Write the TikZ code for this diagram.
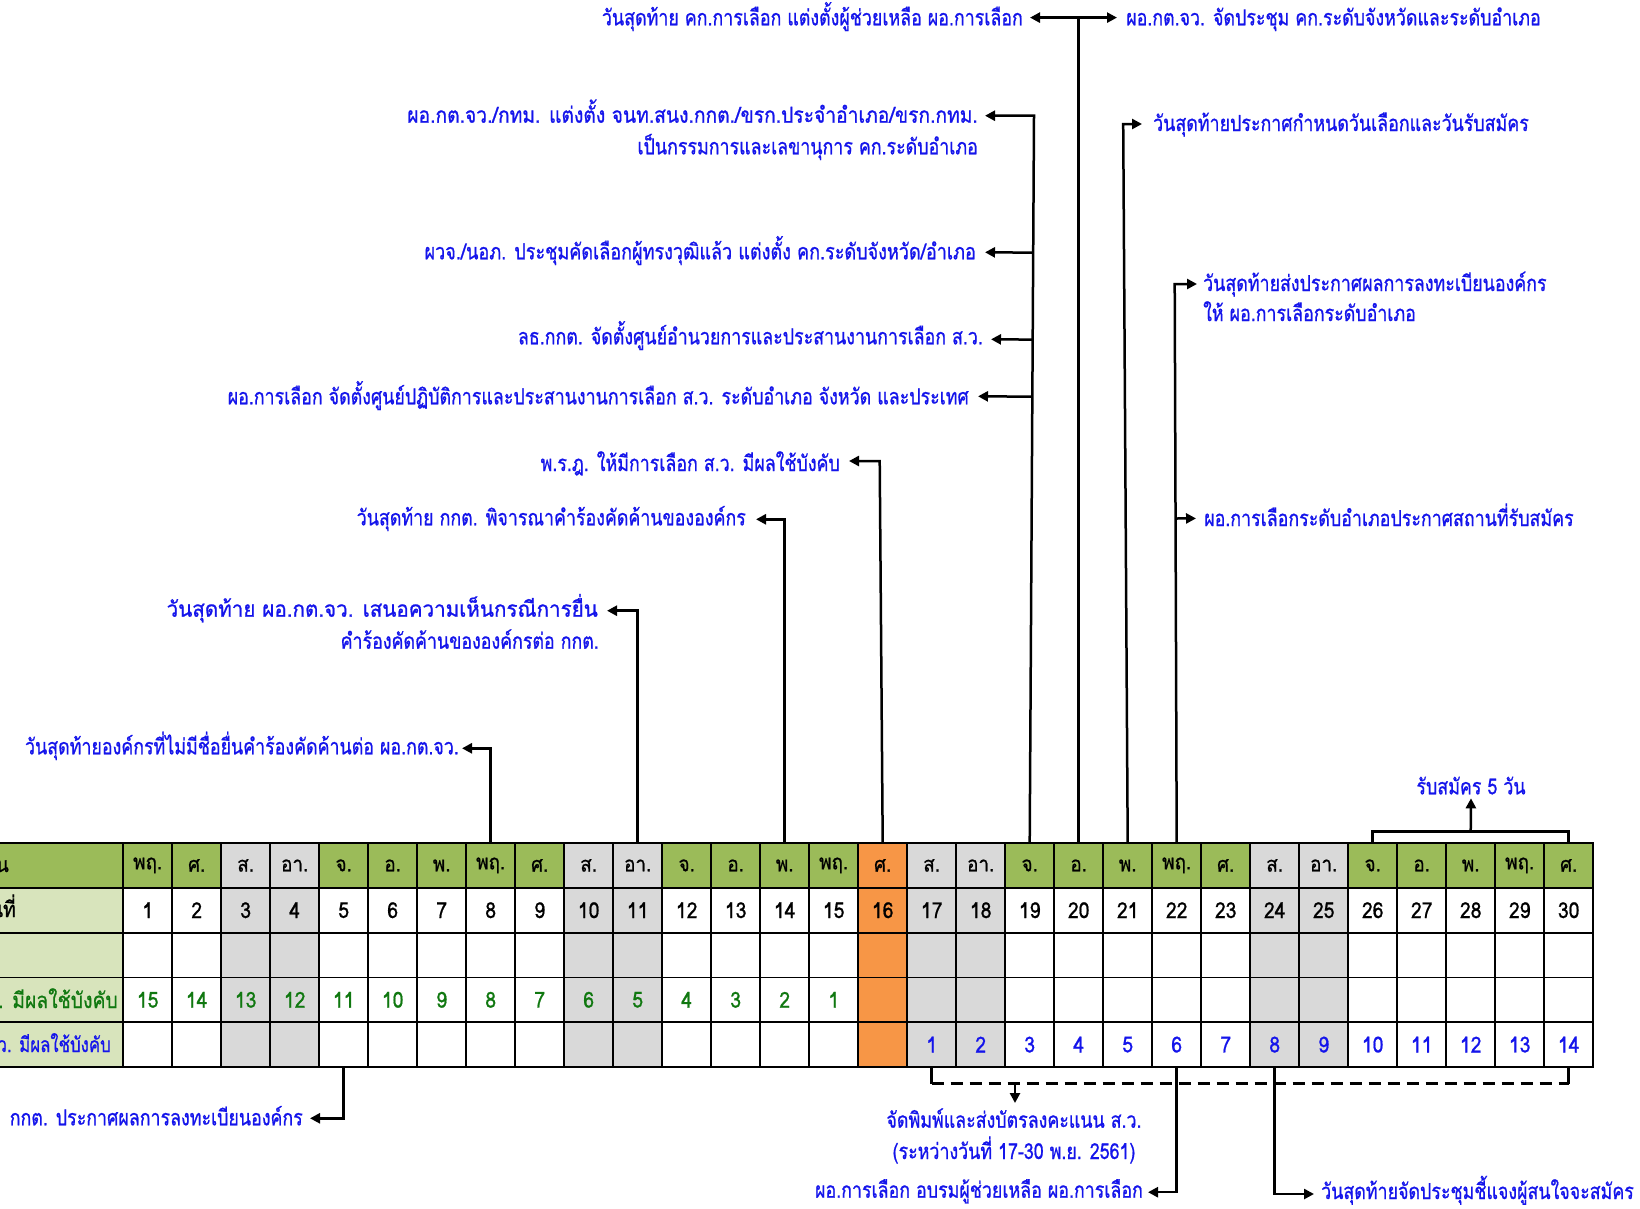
\documentclass[tikz,border=0pt]{standalone}
\usepackage{fontspec}
\setmainfont[Script=Thai,FakeBold=0.9]{Loma}
\usetikzlibrary{arrows.meta,calc}
\definecolor{hdrgreen}{RGB}{155,187,89}
\definecolor{lblgreen}{RGB}{216,228,188}
\definecolor{wkgray}{RGB}{217,217,217}
\definecolor{orng}{RGB}{247,150,70}
\definecolor{tblue}{RGB}{20,20,235}
\definecolor{tgreen}{RGB}{16,120,16}
\newcommand\hdrfont{\fontsize{21}{24}\selectfont}
\newcommand\numfont{\fontsize{22}{26}\selectfont}
\newcommand\lblfont{\fontsize{22}{26}\selectfont}
\newcommand\sxl[2][0.81]{\scalebox{#1}[1]{#2}}
\newcommand\sxh[1]{\scalebox{0.9}[1]{#1}}
\newcommand\sxn[1]{\scalebox{0.88}[1]{#1}}
\newcommand\sxr[1]{\scalebox{0.8}[1]{#1}}
\begin{document}
\begin{tikzpicture}[x=1pt,y=-1pt,
  cell/.style={draw=black,line width=1.8pt,minimum width=49pt,minimum height=44.8pt,inner sep=0pt,anchor=center},
  lbl/.style={text=tblue,inner sep=0pt,font=\lblfont},
  conn/.style={line width=2.5pt},
  arr/.style={conn,-{Triangle[length=10pt,width=10pt]}},
  darr/.style={conn,{Triangle[length=10pt,width=10pt]}-{Triangle[length=10pt,width=10pt]}}
]
\useasboundingbox (0,0) rectangle (1640,1208);
\clip (0,0) rectangle (1640,1208);
\fill[white] (0,0) rectangle (1640,1208);

% label column
\node[cell,minimum width=323.2pt,fill=hdrgreen] (lab1) at (-38.4,865.4) {};
\node[cell,minimum width=323.2pt,fill=lblgreen] (lab2) at (-38.4,910.2) {};
\node[cell,minimum width=323.2pt,fill=lblgreen] (lab3) at (-38.4,955) {};
\node[cell,minimum width=323.2pt,fill=lblgreen] (lab4) at (-38.4,999.8) {};
\node[cell,minimum width=323.2pt,fill=lblgreen] (lab5) at (-38.4,1044.6) {};
\node[anchor=base east,inner sep=0pt,font=\hdrfont] (labt1) at (9,872) {\sxh{วัน}};
\node[anchor=base east,inner sep=0pt,font=\numfont] (labt2) at (16,917) {\sxn{วันที่}};
\node[anchor=base east,inner sep=0pt,font=\numfont,text=tgreen] (labt4) at (118,1008) {\sxn{ฎ. มีผลใช้บังคับ}};
\node[anchor=base east,inner sep=0pt,font=\fontsize{21}{24}\selectfont,text=tblue] (labt5) at (111,1052) {\sxr{ว. มีผลใช้บังคับ}};

% calendar
\foreach \i/\dn/\hf/\bg in {1/พฤ./hdrgreen/white, 2/ศ./hdrgreen/white, 3/ส./wkgray/wkgray, 4/อา./wkgray/wkgray, 5/จ./hdrgreen/white, 6/อ./hdrgreen/white, 7/พ./hdrgreen/white, 8/พฤ./hdrgreen/white, 9/ศ./hdrgreen/white, 10/ส./wkgray/wkgray, 11/อา./wkgray/wkgray, 12/จ./hdrgreen/white, 13/อ./hdrgreen/white, 14/พ./hdrgreen/white, 15/พฤ./hdrgreen/white, 16/ศ./orng/orng, 17/ส./wkgray/wkgray, 18/อา./wkgray/wkgray, 19/จ./hdrgreen/white, 20/อ./hdrgreen/white, 21/พ./hdrgreen/white, 22/พฤ./hdrgreen/white, 23/ศ./hdrgreen/white, 24/ส./wkgray/wkgray, 25/อา./wkgray/wkgray, 26/จ./hdrgreen/white, 27/อ./hdrgreen/white, 28/พ./hdrgreen/white, 29/พฤ./hdrgreen/white, 30/ศ./hdrgreen/white}
{
  \pgfmathsetmacro{\cx}{98.7+49*\i}
  \pgfmathtruncatemacro{\cd}{16-\i}
  \pgfmathtruncatemacro{\ca}{\i-16}
  \node[cell,fill=\hf,font=\hdrfont] (h\i) at (\cx,865.4) {\sxh{\dn}};
  \node[cell,fill=\bg,font=\numfont] (d\i) at (\cx,910.2) {\sxn{\i}};
  \node[cell,fill=\bg] (e\i) at (\cx,955) {};
  \node[cell,fill=\bg,font=\numfont,text=tgreen] (c\i) at (\cx,999.8) {\ifnum\cd>0 \sxn{\cd}\fi};
  \node[cell,fill=\bg,font=\numfont,text=tblue] (a\i) at (\cx,1044.6) {\ifnum\ca>0 \sxn{\ca}\fi};
}

% labels
\node[lbl,anchor=base east] (L1) at (1023,25.3) {\sxl{วันสุดท้าย คก.การเลือก แต่งตั้งผู้ช่วยเหลือ ผอ.การเลือก}};
\node[lbl,anchor=base west] (R1) at (1126,25.3) {\sxl{ผอ.กต.จว. จัดประชุม คก.ระดับจังหวัดและระดับอำเภอ}};
\node[lbl,anchor=base east] (L2a) at (978,122.7) {\sxl[0.875]{ผอ.กต.จว./กทม. แต่งตั้ง จนท.สนง.กกต./ขรก.ประจำอำเภอ/ขรก.กทม.}};
\node[lbl,anchor=base east] (L2b) at (978,154.3) {\sxl{เป็นกรรมการและเลขานุการ คก.ระดับอำเภอ}};
\node[lbl,anchor=base west] (R2) at (1153,131) {\sxl{วันสุดท้ายประกาศกำหนดวันเลือกและวันรับสมัคร}};
\node[lbl,anchor=base east] (L3) at (976,259.3) {\sxl[0.82]{ผวจ./นอภ. ประชุมคัดเลือกผู้ทรงวุฒิแล้ว แต่งตั้ง คก.ระดับจังหวัด/อำเภอ}};
\node[lbl,anchor=base east] (L4) at (983,344.3) {\sxl{ลธ.กกต. จัดตั้งศูนย์อำนวยการและประสานงานการเลือก ส.ว.}};
\node[lbl,anchor=base east] (L5) at (969,404.3) {\sxl{ผอ.การเลือก จัดตั้งศูนย์ปฏิบัติการและประสานงานการเลือก ส.ว. ระดับอำเภอ จังหวัด และประเทศ}};
\node[lbl,anchor=base east] (L6) at (840,471) {\sxl{พ.ร.ฎ. ให้มีการเลือก ส.ว. มีผลใช้บังคับ}};
\node[lbl,anchor=base east] (L7) at (746,525.3) {\sxl{วันสุดท้าย กกต. พิจารณาคำร้องคัดค้านขององค์กร}};
\node[lbl,anchor=base east] (L8a) at (598,616.7) {\sxl[0.936]{วันสุดท้าย ผอ.กต.จว. เสนอความเห็นกรณีการยื่น}};
\node[lbl,anchor=base east] (L8b) at (599,648.7) {\sxl{คำร้องคัดค้านขององค์กรต่อ กกต.}};
\node[lbl,anchor=base east] (L9) at (459,754.3) {\sxl{วันสุดท้ายองค์กรที่ไม่มีชื่อยื่นคำร้องคัดค้านต่อ ผอ.กต.จว.}};
\node[lbl,anchor=base west] (R3a) at (1203,291) {\sxl{วันสุดท้ายส่งประกาศผลการลงทะเบียนองค์กร}};
\node[lbl,anchor=base west] (R3b) at (1203,321) {\sxl{ให้ ผอ.การเลือกระดับอำเภอ}};
\node[lbl,anchor=base west] (R4) at (1204,526) {\sxl{ผอ.การเลือกระดับอำเภอประกาศสถานที่รับสมัคร}};
\node[lbl,anchor=base east] (B1) at (303,1125.3) {\sxl{กกต. ประกาศผลการลงทะเบียนองค์กร}};
\node[lbl,anchor=base] (B2a) at (1014,1127.7) {\sxl{จัดพิมพ์และส่งบัตรลงคะแนน ส.ว.}};
\node[lbl,anchor=base] (B2b) at (1014,1159) {\sxl{(ระหว่างวันที่ 17-30 พ.ย. 2561)}};
\node[lbl,anchor=base east] (B3) at (1143,1197.7) {\sxl{ผอ.การเลือก อบรมผู้ช่วยเหลือ ผอ.การเลือก}};
\node[lbl,anchor=base west] (B4) at (1321,1199) {\sxl{วันสุดท้ายจัดประชุมชี้แจงผู้สนใจจะสมัคร}};
\node[lbl,anchor=base] (T5) at (1471,794.3) {\sxl{รับสมัคร 5 วัน}};

% arrow tips
\coordinate (tL1) at ($(L1.base east)+(7,-7.7)$);
\coordinate (tR1) at ($(R1.base west)+(-9,-7.7)$);
\coordinate (tL2) at ($(L2a.base east)+(7,-7)$);
\coordinate (tR2) at ($(R2.base west)+(-11,-7)$);
\coordinate (tL3) at ($(L3.base east)+(9,-7)$);
\coordinate (tL4) at ($(L4.base east)+(8,-5)$);
\coordinate (tL5) at ($(L5.base east)+(9,-8)$);
\coordinate (tL6) at ($(L6.base east)+(9,-10)$);
\coordinate (tL7) at ($(L7.base east)+(10,-6)$);
\coordinate (tL8) at ($(L8a.base east)+(9,-6)$);
\coordinate (tL9) at ($(L9.base east)+(3,-6)$);
\coordinate (tR3) at ($(R3a.base west)+(-6,-7)$);
\coordinate (tR4) at ($(R4.base west)+(-8,-7.6)$);
\coordinate (tB1) at ($(B1.base east)+(7,-7)$);
\coordinate (tB3) at ($(B3.base east)+(5,-5.5)$);
\coordinate (tB4) at ($(B4.base west)+(-7,-5)$);
\coordinate (tB2) at (1015,1103);
\coordinate (tT5) at ($(T5.base)+(0,4)$);

% connectors above the table
\coordinate (j20) at (h20.north |- tL1);
\draw[conn] (h20.north) -- (j20);
\draw[darr] (tL1) -- (tR1);
\coordinate (j19) at ($(tL2 -| h19.north)+(4.3,0)$);
\draw[arr] (h19.north) -- (j19) -- (tL2);
\draw[arr] ($(h19.north)!(tL3)!(j19)$) -- (tL3);
\draw[arr] ($(h19.north)!(tL4)!(j19)$) -- (tL4);
\draw[arr] ($(h19.north)!(tL5)!(j19)$) -- (tL5);
\coordinate (j21) at ($(tR2 -| h21.north)+(-4.5,0)$);
\draw[arr] (h21.north) -- (j21) -- (tR2);
\coordinate (j22) at ($(tR3 -| h22.north)+(-2,0)$);
\draw[arr] (h22.north) -- (j22) -- (tR3);
\draw[arr] ($(h22.north)!(tR4)!(j22)$) -- (tR4);
\coordinate (j16) at ($(tL6 -| h16.north)+(-3,0)$);
\draw[arr] (h16.north) -- (j16) -- (tL6);
\draw[arr] (h14.north) |- (tL7);
\draw[arr] (h11.north) |- (tL8);
\draw[arr] (h8.north) |- (tL9);

% bracket above 26-30
\coordinate (bl) at (h26.north |- 0,831.7);
\coordinate (br) at (h30.north |- 0,831.7);
\draw[conn] (h26.north) -- (bl) -- (br) -- (h30.north);
\draw[arr] ($(bl)!0.5!(br)$) -- (tT5);

% connectors below the table
\draw[arr] (a5.south) |- (tB1);
\draw[arr] (a22.south) |- (tB3);
\draw[arr] (a24.south) |- (tB4);
\coordinate (dl) at (a17.south |- 0,1083.5);
\coordinate (dr) at (a30.south |- 0,1083.5);
\draw[conn] (a17.south) -- (dl);
\draw[conn] (a30.south) -- (dr);
\draw[conn,dash pattern=on 12pt off 7pt] (dl) -- (dr);
\draw[arr] (tB2 |- dl) -- (tB2);
\end{tikzpicture}
\end{document}
